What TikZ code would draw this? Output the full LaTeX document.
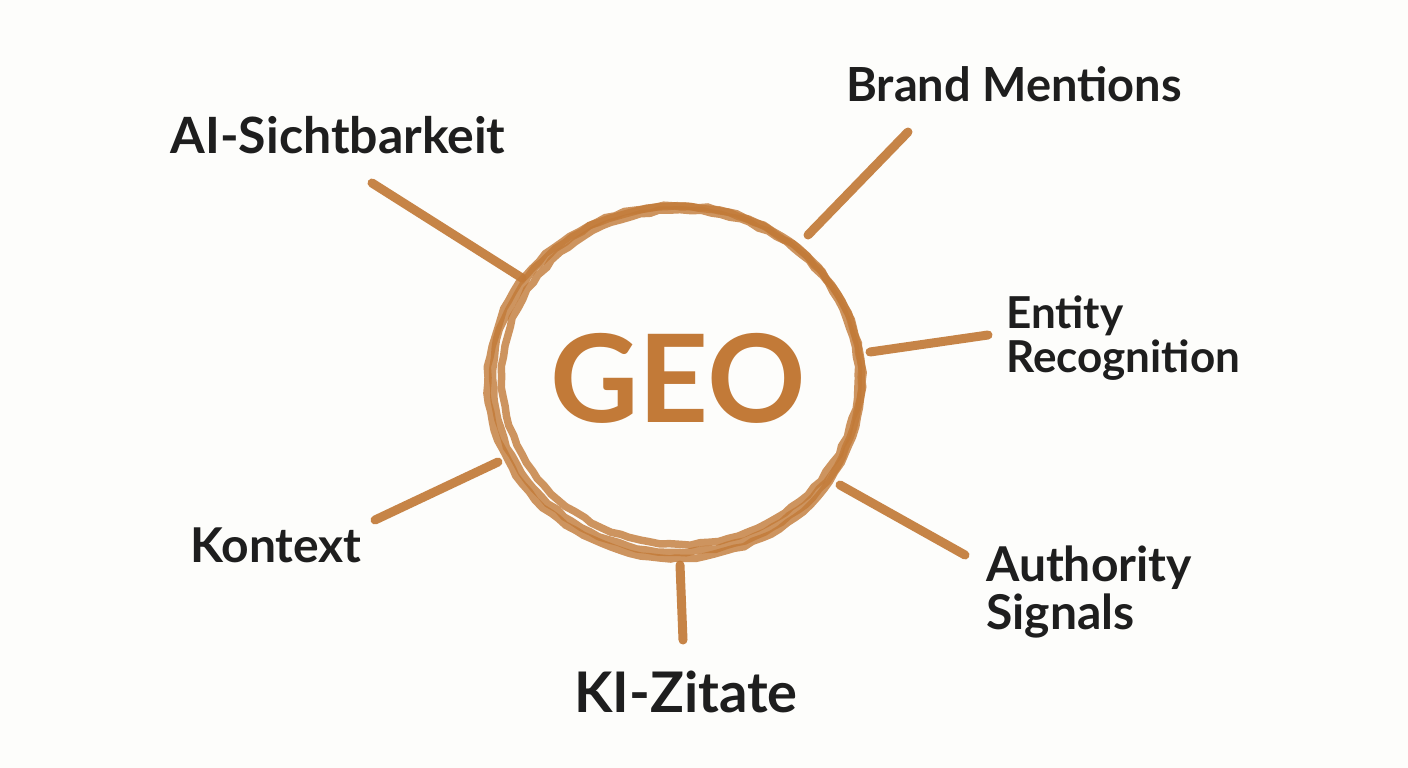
\documentclass[tikz,border=0pt]{standalone}
\usepackage{fontspec}
\setmainfont{Lato}
\usepackage{tikz}
\usetikzlibrary{positioning,calc,decorations.pathmorphing}
\definecolor{crayon}{HTML}{C27A38}
\definecolor{pencil}{HTML}{1E1E1E}
\definecolor{paper}{HTML}{FDFDFB}

\begin{document}
\begin{tikzpicture}
  [
      x=1pt, y=-1pt,
      ray/.style={draw=crayon, line width=9pt, line cap=round, opacity=0.92},
      ring/.style={draw=crayon, line width=7.5pt, opacity=0.8,
        decorate, decoration={random steps, segment length=10pt, amplitude=1.2pt}},
      topic/.style={text=pencil, font=\bfseries\fontsize{#1}{#1}\selectfont, inner sep=0pt},
      topicl/.style={topic=#1, align=left, anchor=west},
    ]

    \fill [paper] (0,0) rectangle (1408,768);
    \useasboundingbox (0,0) rectangle (1408,768);

    % hub
    \coordinate (hub) at (677,379);
    \draw [ring] (hub) ellipse [x radius=184pt, y radius=173pt];
    \draw [ring] ($(hub)+(3,-2)$) ellipse [x radius=178pt, y radius=167pt];
    \draw [ring] ($(hub)+(-2,3)$) ellipse [x radius=187pt, y radius=176pt];
    \node (geo) [text=crayon, font=\bfseries\fontsize{122}{130}\selectfont] at (678,378) {GEO};

    % rays
    \coordinate (sicht in) at (522,278);   \coordinate (sicht out) at (372,183);
    \coordinate (brand in) at (808,235);   \coordinate (brand out) at (908,132);
    \coordinate (entity in) at (870,352);  \coordinate (entity out) at (988,335);
    \coordinate (auth in) at (840,485);    \coordinate (auth out) at (965,555);
    \coordinate (zitat in) at (680,565);   \coordinate (zitat out) at (683,640);
    \coordinate (kontext in) at (498,462); \coordinate (kontext out) at (375,520);

    \draw [ray] (sicht in) -- (sicht out);
    \draw [ray] (brand in) -- (brand out);
    \draw [ray] (entity in) -- (entity out);
    \draw [ray] (auth in) -- (auth out);
    \draw [ray] (zitat in) -- (zitat out);
    \draw [ray] (kontext in) -- (kontext out);

    % labels
    \node (sicht) [topic=50] at (338,135) {AI-Sichtbarkeit};
    \node (brand) [topic=47] at (1014,84) {Brand Mentions};
    \node (entity) [topicl=44] at (1006,338) {Entity\\Recognition};
    \node (auth) [topicl=48] at (986,592) {Authority\\Signals};
    \node (kontext) [topic=48] at (276,545) {Kontext};
    \node (zitat) [topic=56] at (686,692) {KI-Zitate};

  \end{tikzpicture}
\end{document}
